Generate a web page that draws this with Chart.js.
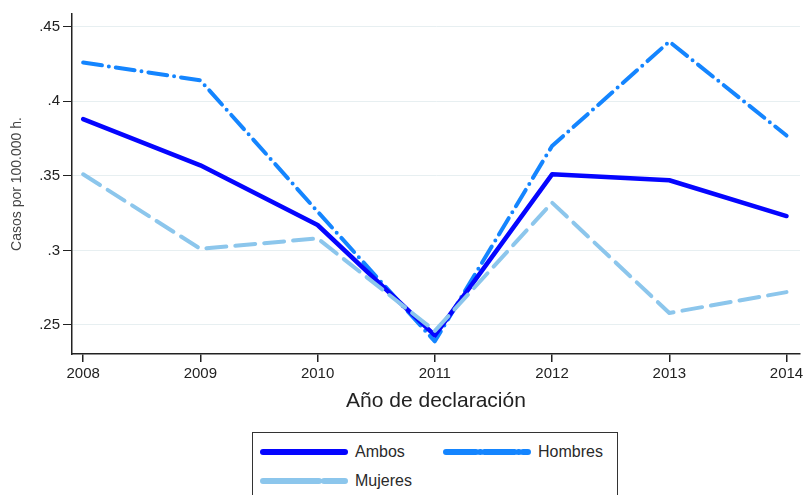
<!DOCTYPE html>
<html>
<head>
<meta charset="utf-8">
<script src="https://cdn.jsdelivr.net/npm/chart.js@4.4.1/dist/chart.umd.min.js"></script>
<style>
  html, body { margin: 0; padding: 0; background: #fff; }
  #wrap { position: relative; width: 808px; height: 495px; overflow: hidden; font-family: "Liberation Sans", Arial, sans-serif; }
  #c { position: absolute; left: 0; top: 0; }
  #legend { position: absolute; left: 252px; top: 432px; width: 366px; height: 80px; border: 1.5px solid #333; box-sizing: border-box; background: #fff; }
  .item { position: absolute; height: 20px; font-size: 16px; color: #2a2a2a; line-height: 20px; }
  .item svg { position: absolute; left: 0; top: 0; }
  .item span { position: absolute; top: 0; white-space: nowrap; }
</style>
</head>
<body>
<div id="wrap">
  <canvas id="c" width="808" height="495"></canvas>
  <div id="legend"></div>
</div>
<script>
// ---- data ----
const years = [2008, 2009, 2010, 2011, 2012, 2013, 2014];
const ambos = [0.388, 0.357, 0.317, 0.243, 0.351, 0.347, 0.323];
const hombres = [0.426, 0.414, 0.326, 0.239, 0.370, 0.440, 0.377];
const mujeres = [0.351, 0.301, 0.308, 0.246, 0.332, 0.258, 0.272];
const yTickValues = [0.25, 0.3, 0.35, 0.4, 0.45];
const yTickLabels = ['.25', '.3', '.35', '.4', '.45'];
const seriesNames = ['Ambos', 'Hombres', 'Mujeres'];
const xTitle = 'Año de declaración';
const yTitle = 'Casos por 100.000 h.';

const colAmbos = '#0505ff';
const colHombres = '#1485ff';
const colMujeres = '#8cc6ec';

const toPts = arr => years.map((y, i) => ({ x: y, y: arr[i] }));

const FONT = '"Liberation Sans", Arial, sans-serif';

new Chart(document.getElementById('c'), {
  type: 'line',
  data: {
    datasets: [
      { label: seriesNames[0], data: toPts(ambos), borderColor: colAmbos, borderWidth: 4.5, order: 2,
        borderCapStyle: 'round', borderJoinStyle: 'round', pointRadius: 0, tension: 0 },
      { label: seriesNames[1], data: toPts(hombres), borderColor: colHombres, borderWidth: 4, order: 3,
        borderDash: [19, 7, 0, 7], borderCapStyle: 'round', borderJoinStyle: 'round', pointRadius: 0, tension: 0 },
      { label: seriesNames[2], data: toPts(mujeres), borderColor: colMujeres, borderWidth: 4, order: 1,
        borderDash: [20, 9], borderCapStyle: 'round', borderJoinStyle: 'round', pointRadius: 0, tension: 0 }
    ]
  },
  options: {
    responsive: false,
    animation: false,
    layout: { padding: { left: 0, top: 14, right: 8, bottom: 81 } },
    plugins: { legend: { display: false }, tooltip: { enabled: false } },
    scales: {
      x: {
        type: 'linear',
        min: 2007.905,
        max: 2014.115,
        afterBuildTicks: s => { s.ticks = years.map(v => ({ value: v })); },
        afterFit: s => { s.height = 60; },
        border: { color: '#222', width: 1.5 },
        grid: { drawOnChartArea: false, tickColor: '#222', tickLength: 8, lineWidth: 1.5 },
        ticks: { font: { family: FONT, size: 15 }, color: '#222', padding: 3, maxRotation: 0,
                 callback: v => String(v) },
        title: { display: true, text: xTitle, font: { family: FONT, size: 21 }, color: '#222',
                 padding: { top: 2, bottom: 0 } }
      },
      y: {
        type: 'linear',
        min: 0.2305,
        max: 0.4585,
        afterBuildTicks: s => { s.ticks = yTickValues.map(v => ({ value: v })); },
        afterFit: s => { s.width = 72; },
        border: { color: '#222', width: 1.5 },
        grid: { color: '#e7eff1', lineWidth: 1, tickColor: '#222', tickLength: 9 },
        ticks: { font: { family: FONT, size: 15 }, color: '#222', padding: 3,
                 callback: (v) => { const i = yTickValues.findIndex(t => Math.abs(t - v) < 1e-9); return i >= 0 ? yTickLabels[i] : ''; } },
        title: { display: true, text: yTitle, font: { family: FONT, size: 14 }, color: '#444',
                 padding: { top: 9, bottom: 0 } }
      }
    }
  }
});

// ---- legend (HTML) ----
const legend = document.getElementById('legend');
const legendItems = [
  { name: seriesNames[0], color: colAmbos, width: 6, dash: '', left: 7, top: 9 },
  { name: seriesNames[1], color: colHombres, width: 6, dash: '30 4 0.5 4', left: 190, top: 9 },
  { name: seriesNames[2], color: colMujeres, width: 6, dash: '56 5', left: 7, top: 38 }
];
legendItems.forEach(it => {
  const d = document.createElement('div');
  d.className = 'item';
  d.style.left = it.left + 'px';
  d.style.top = it.top + 'px';
  d.style.width = '170px';
  d.innerHTML = '<svg width="90" height="20"><line x1="3" y1="10" x2="85" y2="10" stroke="' + it.color +
    '" stroke-width="' + it.width + '" stroke-linecap="round"' + (it.dash ? ' stroke-dasharray="' + it.dash + '"' : '') +
    '/></svg><span style="left:95px">' + it.name + '</span>';
  legend.appendChild(d);
});
</script>
</body>
</html>
